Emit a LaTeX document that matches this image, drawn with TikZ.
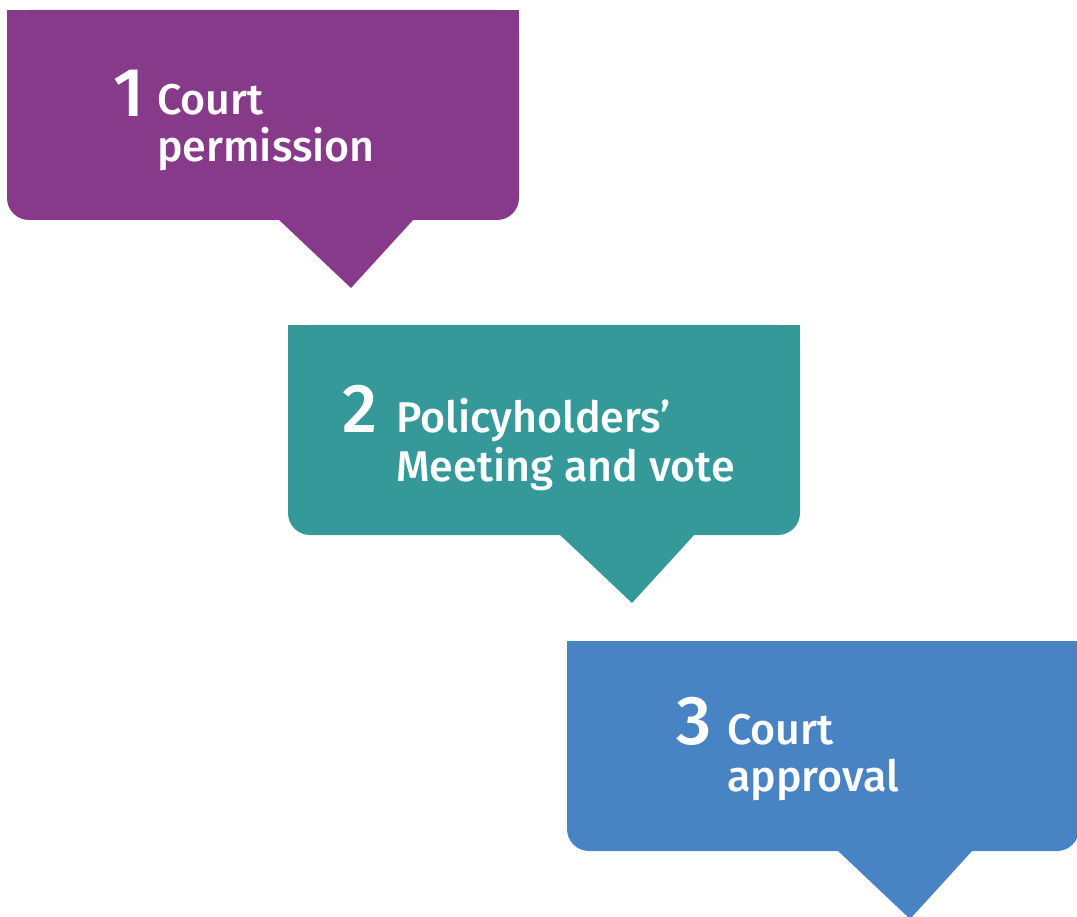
\documentclass[tikz,border=0pt]{standalone}
\usepackage{fontspec}
\setmainfont{Fira Sans}[UprightFont={* Medium}]
\definecolor{stepA}{HTML}{873A8A}
\definecolor{stepB}{HTML}{35999A}
\definecolor{stepC}{HTML}{4884C4}
\tikzset{
  numlabel/.style={text=white, inner sep=0pt, anchor=base west, font=\fontsize{69}{69}\selectfont},
  steplabel/.style={text=white, inner sep=0pt, anchor=base west, font=\fontsize{43}{48}\selectfont},
}
% speech-bubble shaped step: top-left corner (#1,#2), width, height, pointer tip x, colour
\newcommand{\stepbubble}[6]{%
  \fill[#6, rounded corners=22] (#1,#2) rectangle ++(#3,#4);
  \fill[#6] (#1,#2) rectangle ++(#3,#4/2);
  \fill[#6] (#5-73,#2+#4-1) -- (#5+63,#2+#4-1) -- (#5,#2+#4+68) -- cycle;
}
\begin{document}
\begin{tikzpicture}[x=1pt,y=-1pt]
\useasboundingbox (0,0) rectangle (1077,917);

\stepbubble{7}{10}{512}{210}{351}{stepA}
\stepbubble{288}{325}{512}{210}{632}{stepB}
\stepbubble{567}{641}{512}{210}{910}{stepC}

\node[numlabel]  (n1) at (113,117) {1};
\node[steplabel] (a1) at (157,115) {Court};
\node[steplabel] (b1) at (157,162) {permission};

\node[numlabel]  (n2) at (342,432) {2};
\node[steplabel] (a2) at (396,432) {Policyholders’};
\node[steplabel] (b2) at (396,481) {Meeting and vote};

\node[numlabel]  (n3) at (676,744) {3};
\node[steplabel] (a3) at (727,744) {Court};
\node[steplabel] (b3) at (727,791) {approval};
\end{tikzpicture}
\end{document}
